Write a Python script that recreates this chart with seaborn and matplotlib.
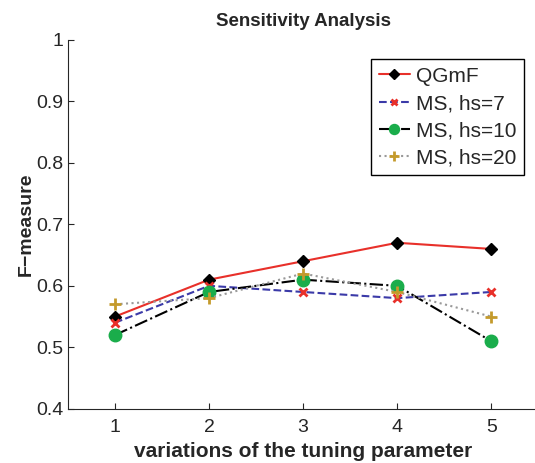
import pandas as pd
import matplotlib.pyplot as plt
import seaborn as sns

variations = [1, 2, 3, 4, 5]
qgmf = [0.55, 0.61, 0.64, 0.67, 0.66]
ms_hs7 = [0.54, 0.60, 0.59, 0.58, 0.59]
ms_hs10 = [0.52, 0.59, 0.61, 0.60, 0.51]
ms_hs20 = [0.57, 0.58, 0.62, 0.59, 0.55]

series = {
    'QGmF': qgmf,
    'MS, hs=7': ms_hs7,
    'MS, hs=10': ms_hs10,
    'MS, hs=20': ms_hs20,
}
styles = {
    'QGmF': dict(color='#e8302a', linestyle='-', marker='D', mfc='black', mec='black', ms=6),
    'MS, hs=7': dict(color='#3b3aa8', linestyle='--', marker='x', mfc='#e8302a', mec='#e8302a', ms=6, mew=2),
    'MS, hs=10': dict(color='black', linestyle='-.', marker='o', mfc='#1aad4b', mec='#1aad4b', ms=9),
    'MS, hs=20': dict(color='#999999', linestyle=':', marker='+', mfc='#c49a2c', mec='#c49a2c', ms=9, mew=2),
}

sns.set_style('ticks')
plt.rcParams['font.family'] = ['Liberation Sans', 'DejaVu Sans']

fig = plt.figure(figsize=(5.35, 4.63), dpi=100)
ax = fig.add_axes([0.127, 0.117, 0.879, 0.797])

for name, vals in series.items():
    df = pd.DataFrame({'x': variations, 'y': vals})
    st = styles[name]
    sns.lineplot(data=df, x='x', y='y', ax=ax, label=name, color=st['color'],
                 linestyle=st['linestyle'], linewidth=1.5, marker=st['marker'],
                 markerfacecolor=st['mfc'], markeredgecolor=st['mec'],
                 markersize=st['ms'], markeredgewidth=st.get('mew', 1))

ax.set_xlim(0.5, 5.5)
ax.set_ylim(0.4, 1.0)
ax.set_xticks(variations)
ax.set_yticks([0.4, 0.5, 0.6, 0.7, 0.8, 0.9, 1.0])
ax.set_yticklabels(['0.4', '0.5', '0.6', '0.7', '0.8', '0.9', '1'])
ax.tick_params(direction='in', labelsize=14, length=4)
ax.tick_params(axis='x', pad=7)
sns.despine(ax=ax)
ax.set_title('Sensitivity Analysis', fontsize=13.5, fontweight='bold', pad=10)
ax.set_xlabel('variations of the tuning parameter', fontsize=15, fontweight='bold', labelpad=5)
ax.set_ylabel('F\u2212measure', fontsize=14, fontweight='bold', labelpad=1)

leg = ax.legend(loc='upper left', bbox_to_anchor=(0.645, 0.947), fontsize=15,
                frameon=True, fancybox=False, edgecolor='black', framealpha=1,
                handlelength=1.5, borderpad=0.35, labelspacing=0.4, handletextpad=0.3,
                markerscale=0.8, borderaxespad=0)
leg.get_frame().set_linewidth(1.0)

fig.savefig('out.png', dpi=100)
